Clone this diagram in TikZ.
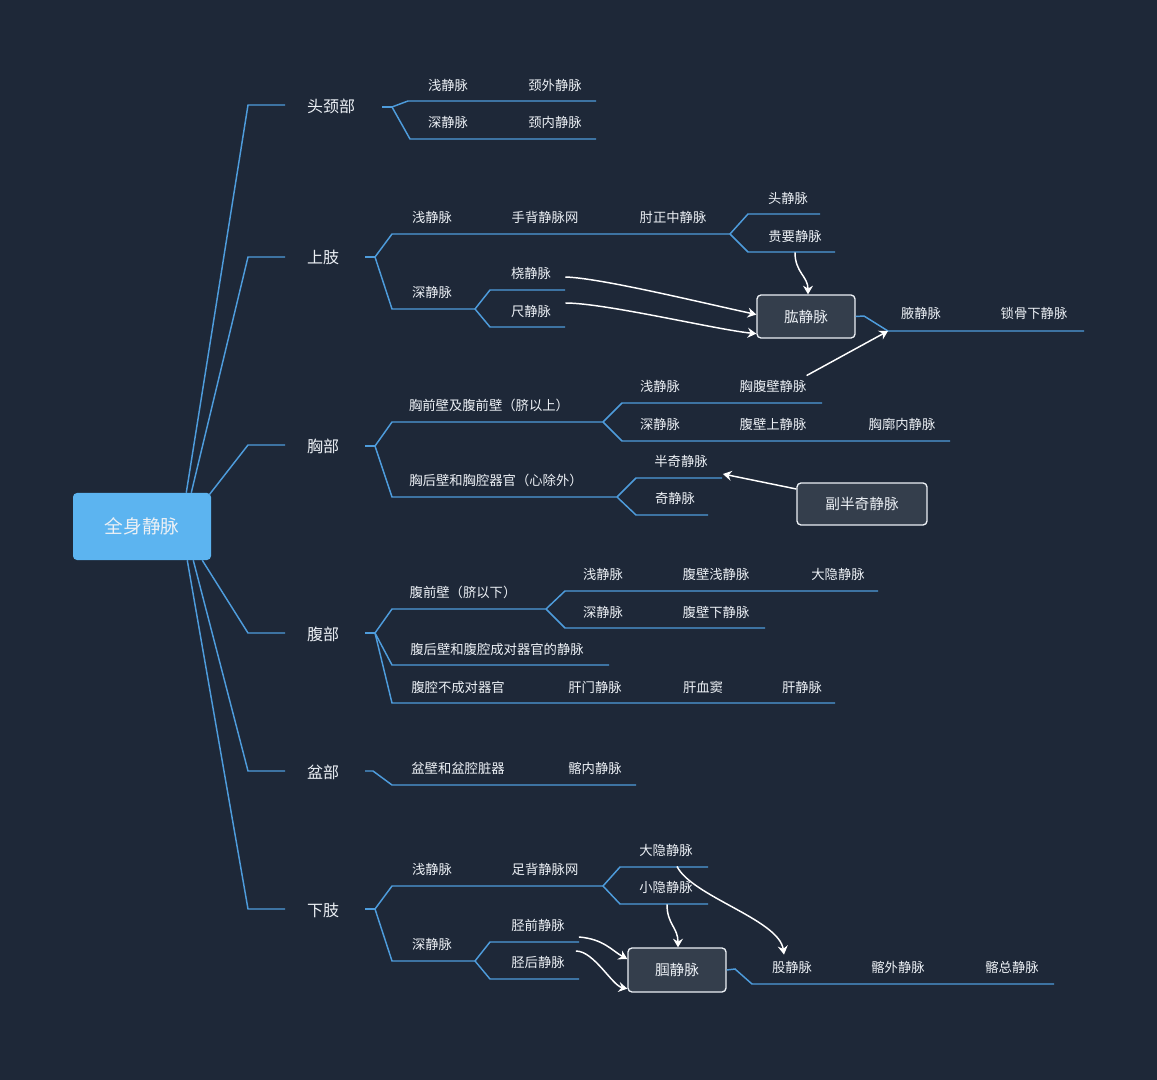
\documentclass[tikz,border=0pt]{standalone}
\usepackage{fontspec}
\setmainfont{Noto Sans CJK SC}
\usetikzlibrary{arrows.meta}
\definecolor{bg}{RGB}{30,40,56}
\definecolor{vline}{RGB}{78,156,220}
\definecolor{rootfill}{RGB}{92,180,240}
\definecolor{boxfill}{RGB}{52,62,76}
\definecolor{txt}{RGB}{236,240,245}

\begin{document}
\begin{tikzpicture}
[x=0.75pt, y=-0.75pt,
every node/.style = {text=txt, inner sep=0pt, align=center}]
\tikzstyle{root} = [rectangle, rounded corners=3pt, fill=rootfill, minimum width=103.5pt, minimum height=50.25pt, font=\fontsize{14}{17}\selectfont]
\tikzstyle{part} = [font=\fontsize{12}{14}\selectfont]
\tikzstyle{vein} = [font=\fontsize{10}{12}\selectfont]
\tikzstyle{hub} = [rectangle, rounded corners=3pt, draw=txt, fill=boxfill, line width=1pt, minimum height=32.25pt, font=\fontsize{11}{13}\selectfont]
\tikzstyle{link} = [draw=vline, line width=1.1pt]
\tikzstyle{flow} = [draw=white, line width=1.1pt, -{Stealth[length=6.5pt, width=7.5pt, inset=2.2pt]}]

\useasboundingbox (0,0) rectangle (1157,1080);
\fill[bg] (0,0) rectangle (1157,1080);

\node[root] (r) at (142,526.5) {全身静脉};

% 头颈部
\node[part] (hj) at (331,106) {头颈部};
\draw[link] ([shift={(-25,0)}]r.north east) -- (248,105) -- (285,105);
\coordinate (hjF) at (392,107);
\draw[link] (382,107) -- (hjF);
\draw[link] (hjF) -- (408,101) -- (596,101);
\draw[link] (hjF) -- (410,139) -- (596,139);
\node[vein] (hjq) at (448,85) {浅静脉};
\node[vein] (jw) at (555,85) {颈外静脉};
\node[vein] (hjs) at (448,122) {深静脉};
\node[vein] (jn) at (555,122) {颈内静脉};

% 上肢
\node[part] (sz) at (323,257) {上肢};
\draw[link] ([shift={(-20,0)}]r.north east) -- (248,257) -- (285,257);
\coordinate (szF) at (375,257);
\coordinate (szF2) at (730,234);
\coordinate (szF3) at (475,309);
\draw[link] (365,257) -- (szF);
\draw[link] (szF) -- (392,234) -- (szF2);
\draw[link] (szF2) -- (748,214) -- (820,214);
\draw[link] (szF2) -- (748,252) -- (835,252);
\draw[link] (szF) -- (392,309) -- (szF3);
\draw[link] (szF3) -- (490,290) -- (565,290);
\draw[link] (szF3) -- (490,327) -- (565,327);
\node[vein] (szq) at (432,217) {浅静脉};
\node[vein] (sb) at (545,217) {手背静脉网};
\node[vein] (zz) at (673,217) {肘正中静脉};
\node[vein] (tou) at (788,198) {头静脉};
\node[vein] (gy) at (795,236) {贵要静脉};
\node[vein] (szs) at (432,292) {深静脉};
\node[vein] (rao) at (531,273) {桡静脉};
\node[vein] (chi) at (531,311) {尺静脉};

\node[hub, minimum width=73.5pt] (gong) at (806,316.5) {肱静脉};
\coordinate (yeS) at (888,331);
\draw[link] (gong.east) -- (864,316) -- (yeS) -- (1084,331);
\node[vein] (ye) at (921,313) {腋静脉};
\node[vein] (sg) at (1034,313) {锁骨下静脉};

\draw[flow] ([shift={(14,4)}]rao.east) .. controls +(35,1) and +(-60,-13) .. ([shift={(0,-2)}]gong.west);
\draw[flow] ([shift={(14,-8)}]chi.east) .. controls +(40,0) and +(-40,-4) .. ([shift={(0,-5)}]gong.south west);
\draw[flow] ([shift={(0,10)}]gy.south) .. controls +(0,20) and +(0,-18) .. ([shift={(2,0)}]gong.north);

% 胸部
\node[part] (xb) at (323,446) {胸部};
\draw[link] ([shift={(-2,2)}]r.north east) -- (248,445) -- (285,445);
\coordinate (xbF) at (375,446);
\coordinate (xbF2) at (603,422);
\coordinate (xbF3) at (617,497);
\draw[link] (365,446) -- (xbF);
\draw[link] (xbF) -- (392,422) -- (xbF2);
\draw[link] (xbF2) -- (622,403) -- (822,403);
\draw[link] (xbF2) -- (622,441) -- (950,441);
\draw[link] (xbF) -- (392,497) -- (xbF3);
\draw[link] (xbF3) -- (636,478) -- (722,478);
\draw[link] (xbF3) -- (636,515) -- (708,515);
\node[vein] (xq) at (489,405) {胸前壁及腹前壁（脐以上）};
\node[vein] (xbq) at (660,386) {浅静脉};
\node[vein] (xfb) at (773,386) {胸腹壁静脉};
\node[vein] (xbs) at (660,424) {深静脉};
\node[vein] (fbs) at (773,424) {腹壁上静脉};
\node[vein] (xkn) at (902,424) {胸廓内静脉};
\node[vein] (xh) at (496,480) {胸后壁和胸腔器官（心除外）};
\node[vein] (bq) at (681,461) {半奇静脉};
\node[vein] (qi) at (675,498) {奇静脉};

\node[hub, minimum width=97.5pt, minimum height=31.5pt] (fbq) at (862,504) {副半奇静脉};
\draw[flow] ([shift={(0,-4)}]xfb.north east) -- (yeS);
\draw[flow] ([shift={(0,-15)}]fbq.west) -- ([shift={(15,13)}]bq.east);

% 腹部
\node[part] (fb) at (323,634) {腹部};
\draw[link] ([shift={(-9,0)}]r.south east) -- (248,633) -- (285,633);
\coordinate (fbF) at (375,633);
\coordinate (fbF2) at (546,609);
\draw[link] (365,633) -- (fbF);
\draw[link] (fbF) -- (392,609) -- (fbF2);
\draw[link] (fbF2) -- (565,591) -- (878,591);
\draw[link] (fbF2) -- (565,628) -- (765,628);
\draw[link] (fbF) -- (392,665) -- (609,665);
\draw[link] (fbF) -- (392,703) -- (835,703);
\node[vein] (fq) at (463,592) {腹前壁（脐以下）};
\node[vein] (fbq2) at (603,574) {浅静脉};
\node[vein] (fbqj) at (716,574) {腹壁浅静脉};
\node[vein] (dy1) at (838,574) {大隐静脉};
\node[vein] (fbs2) at (603,612) {深静脉};
\node[vein] (fbx) at (716,612) {腹壁下静脉};
\node[vein] (fh) at (497,649) {腹后壁和腹腔成对器官的静脉};
\node[vein] (fbc) at (458,687) {腹腔不成对器官};
\node[vein] (gm) at (595,687) {肝门静脉};
\node[vein] (gx) at (703,687) {肝血窦};
\node[vein] (gj2) at (802,687) {肝静脉};

% 盆部
\node[part] (pb) at (323,772) {盆部};
\draw[link] ([shift={(-18,0)}]r.south east) -- (248,771) -- (285,771);
\draw[link] (365,771) -- (373,771) -- (392,785) -- (636,785);
\node[vein] (pbq) at (458,768) {盆壁和盆腔脏器};
\node[vein] (qn) at (595,768) {髂内静脉};

% 下肢
\node[part] (xz) at (323,910) {下肢};
\draw[link] ([shift={(-24,0)}]r.south east) -- (248,909) -- (285,909);
\coordinate (xzF) at (375,909);
\coordinate (xzF2) at (603,886);
\coordinate (xzF3) at (475,961);
\draw[link] (365,909) -- (xzF);
\draw[link] (xzF) -- (392,886) -- (xzF2);
\draw[link] (xzF2) -- (620,867) -- (708,867);
\draw[link] (xzF2) -- (620,904) -- (708,904);
\draw[link] (xzF) -- (392,961) -- (xzF3);
\draw[link] (xzF3) -- (490,942) -- (579,942);
\draw[link] (xzF3) -- (490,979) -- (579,979);
\node[vein] (xzq) at (432,869) {浅静脉};
\node[vein] (zb) at (545,869) {足背静脉网};
\node[vein] (dy) at (666,850) {大隐静脉};
\node[vein] (xy) at (666,887) {小隐静脉};
\node[vein] (xzs) at (432,944) {深静脉};
\node[vein] (jq) at (538,925) {胫前静脉};
\node[vein] (jh) at (538,962) {胫后静脉};

\node[hub, minimum width=73.5pt, minimum height=33pt] (gu) at (677,970) {腘静脉};
\draw[link] (gu.east) -- (735,969) -- (752,984) -- (1054,984);
\node[vein] (gj) at (792,967) {股静脉};
\node[vein] (qw) at (898,967) {髂外静脉};
\node[vein] (qz) at (1012,967) {髂总静脉};

\draw[flow] ([shift={(1,11)}]xy.south) .. controls +(0,20) and +(0,-20) .. ([shift={(1,0)}]gu.north);
\draw[flow] ([shift={(11,10)}]dy.south) .. controls +(15,30) and +(-5,-35) .. ([shift={(-8,-6)}]gj.north);
\draw[flow] ([shift={(14,12)}]jq.east) .. controls +(25,2) and +(-15,-8) .. ([shift={(0,-11)}]gu.west);
\draw[flow] ([shift={(11,-11)}]jh.east) .. controls +(18,0) and +(-15,-3) .. ([shift={(0,-4)}]gu.south west);

\end{tikzpicture}
\end{document}
